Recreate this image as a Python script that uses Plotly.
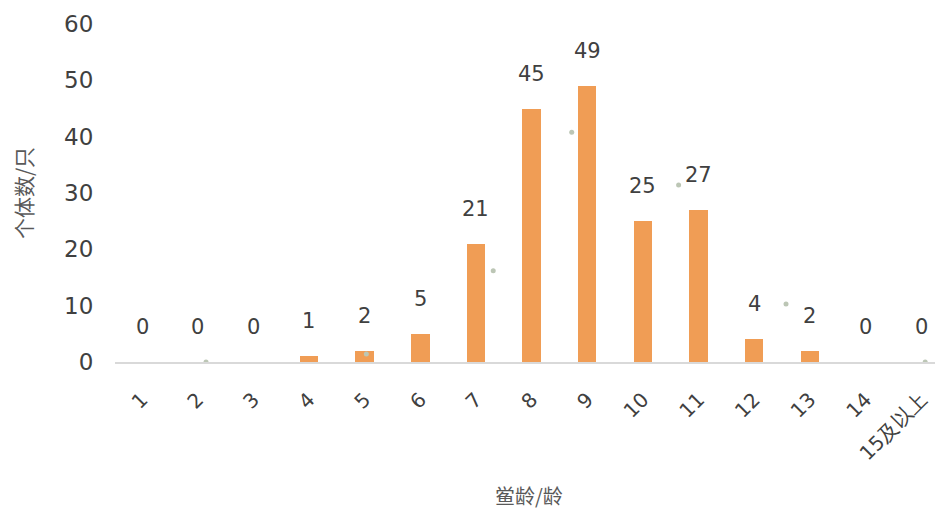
import plotly.graph_objects as go

categories = ["1", "2", "3", "4", "5", "6", "7", "8", "9", "10", "11", "12", "13", "14", "15及以上"]
counts = [0, 0, 0, 1, 2, 5, 21, 45, 49, 25, 27, 4, 2, 0, 0]

# faint grey markers visible in the reference (second series)
dot_x = [2.15, 5.03, 7.31, 8.72, 10.64, 12.57, 15.07]
dot_y = [0, 1.4, 16.2, 40.8, 31.4, 10.3, 0]

y_ticks = [0, 10, 20, 30, 40, 50, 60]

xpos = list(range(1, len(categories) + 1))

num_font = "DejaVu Sans"
cjk_font = "Noto Sans CJK SC"

fig = go.Figure()
fig.add_trace(go.Bar(x=xpos, y=counts, width=0.33, marker=dict(color="#F09D55", line=dict(width=0)),
                     hoverinfo="skip"))
fig.add_trace(go.Scatter(x=dot_x, y=dot_y, mode="markers",
                         marker=dict(color="#BCC6B5", size=5), hoverinfo="skip"))

for xv, v in zip(xpos, counts):
    fig.add_annotation(x=xv, y=v, text=str(v), showarrow=False, yshift=35,
                       font=dict(family=num_font, size=21, color="#404040"))

fig.add_annotation(x=0.5, y=0, xref="paper", yref="paper", text="鲎龄/龄", showarrow=False,
                   yshift=-133, yanchor="middle",
                   font=dict(family=cjk_font, size=20, color="#595959"))

fig.update_layout(
    width=935, height=502,
    margin=dict(l=107, r=0, t=16, b=148),
    plot_bgcolor="white", paper_bgcolor="white",
    showlegend=False,
    bargap=0,
)
fig.update_xaxes(
    range=[0.515, 15.39],
    tickmode="array", tickvals=xpos, ticktext=categories,
    tickangle=-45,
    tickfont=dict(family=num_font, size=20, color="#404040"),
    showgrid=False, zeroline=False,
    showline=True, linecolor="#D9D9D9", linewidth=2,
    ticks="outside", ticklen=16, tickcolor="rgba(0,0,0,0)",
)
fig.update_yaxes(
    range=[0, 60],
    tickmode="array", tickvals=y_ticks,
    tickfont=dict(family=num_font, size=23, color="#404040"),
    showgrid=False, zeroline=False, showline=False,
    ticks="outside", ticklen=16, tickcolor="rgba(0,0,0,0)",
    title=dict(text="个体数/只", font=dict(family=cjk_font, size=21, color="#595959"), standoff=26),
)

fig.write_html("out.html")
